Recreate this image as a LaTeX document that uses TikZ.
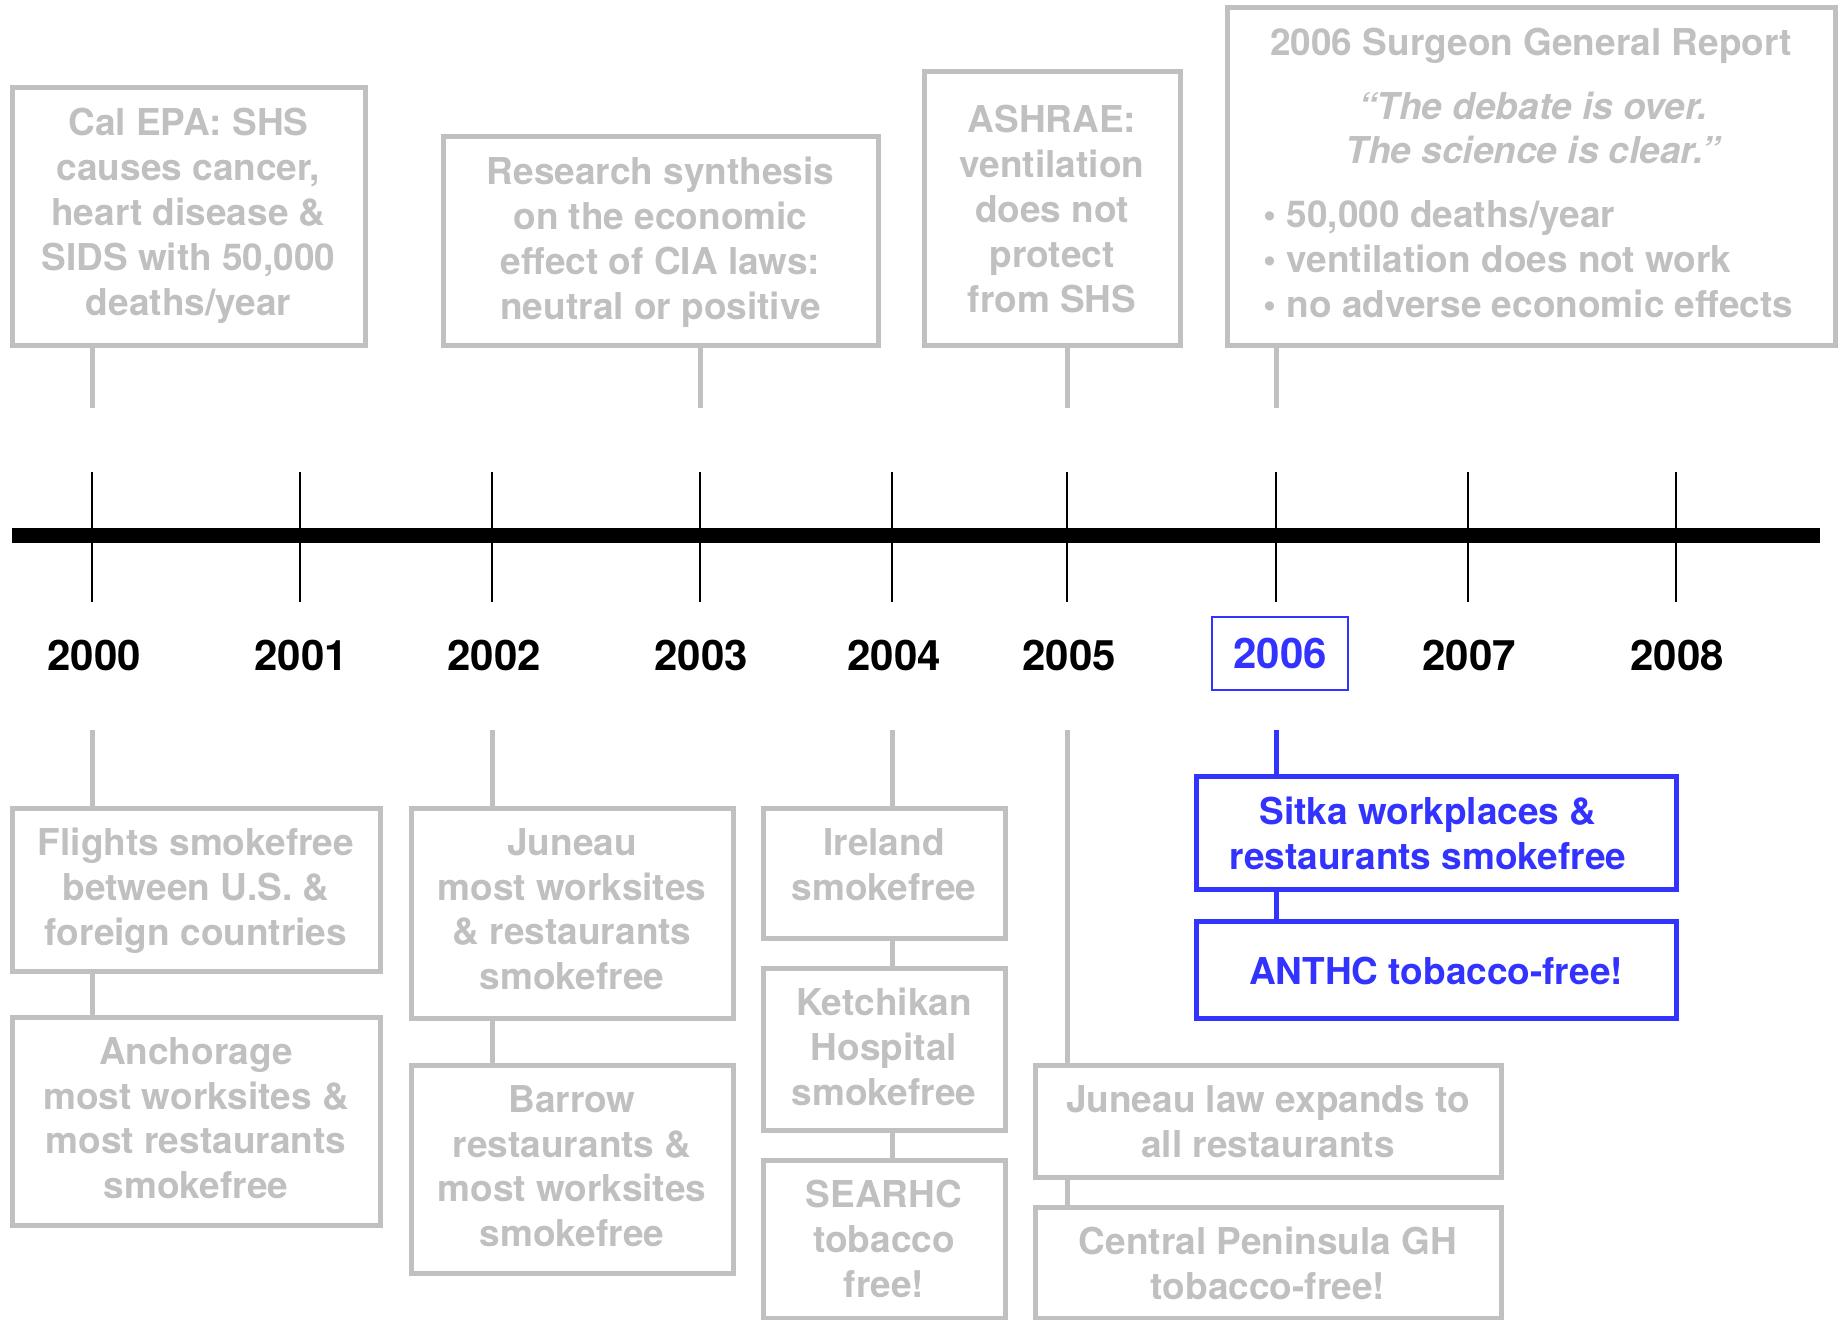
\documentclass[tikz,border=0pt]{standalone}
\usepackage{fontspec}
\setmainfont{TeX Gyre Heros}
\definecolor{gcol}{RGB}{192,192,192}
\definecolor{bcol}{RGB}{51,51,255}
\tikzset{
  txt/.style={font=\fontsize{18.5}{22.4}\selectfont\bfseries, align=center, inner sep=0pt},
  gframe/.style={draw=gcol, line width=2.5pt, inner sep=0pt},
  bframe/.style={draw=bcol, line width=2.5pt, inner sep=0pt},
  gtxt/.style={txt, text=gcol},
  btxt/.style={txt, text=bcol},
  gline/.style={draw=gcol, line width=2.5pt},
  bline/.style={draw=bcol, line width=2.5pt},
  yearlbl/.style={font=\fontsize{21}{25}\selectfont\bfseries, inner sep=0pt},
  tickline/.style={draw=black, line width=1pt},
  axisline/.style={draw=black, line width=7.5pt}
}
\begin{document}
\begin{tikzpicture}[x=0.5pt,y=-0.5pt]
\useasboundingbox (0,0) rectangle (1847,1320);

% ---- axis ----
\coordinate (axl) at (12,536);
\coordinate (axr) at (1820,536);
\draw[axisline] (axl) -- (axr);
\foreach \yr/\x in {2000/92,2001/300,2002/492,2003/700,2004/892,2005/1067,2006/1276,2007/1468,2008/1676}{
  \coordinate (t\yr a) at (\x,472);
  \coordinate (t\yr b) at (\x,602);
  \draw[tickline] (t\yr a) -- (t\yr b);
}
\foreach \yr/\x in {2000/94,2001/301,2002/494,2003/701,2004/894,2005/1069,2007/1469,2008/1677}{
  \node[yearlbl] (y\yr) at (\x,655) {\yr};
}
\node[yearlbl, text=bcol, draw=bcol, line width=1pt, minimum width=68pt, minimum height=36.5pt] (y2006) at (1280,653.5) {2006};

% ---- top boxes ----
\node[gframe, minimum width=176.5pt, minimum height=129pt] (calepa) at (188.5,217) {};
\node[gtxt, anchor=north] (calepatxt) at (188.5,108)
  {Cal EPA: SHS\\causes cancer,\\heart disease \&\\SIDS with 50,000\\deaths/year};
\node[gframe, minimum width=217.5pt, minimum height=104.5pt] (research) at (660.5,241.5) {};
\node[gtxt, anchor=north] (researchtxt) at (660.5,157)
  {Research synthesis\\on the economic\\effect of CIA laws:\\neutral or positive};
\node[gframe, minimum width=128pt, minimum height=137pt] (ashrae) at (1052,209) {};
\node[gtxt] (ashraetxt) at (1052,209)
  {ASHRAE:\\ventilation\\does not\\protect\\from SHS};
\node[gframe, minimum width=304pt, minimum height=169pt] (surgeon) at (1531,177) {};
\node[gtxt] (sgtitle) at (1531,46) {2006 Surgeon General Report};
\node[gtxt, font=\fontsize{18.5}{22.4}\selectfont\bfseries\itshape] (sgquote) at (1533,128)
  {“The debate is over.\\The science is clear.”};
\node[gtxt, anchor=west, align=left] (sgbullets) at (1263,259)
  {• 50,000 deaths/year\\• ventilation does not work\\• no adverse economic effects};

\coordinate (c2000t) at (92,408);
\coordinate (c2003t) at (700,408);
\coordinate (c2005t) at (1067,408);
\coordinate (c2006t) at (1276,408);
\draw[gline] (calepa.south -| c2000t) -- (c2000t);
\draw[gline] (research.south -| c2003t) -- (c2003t);
\draw[gline] (ashrae.south -| c2005t) -- (c2005t);
\draw[gline] (surgeon.south -| c2006t) -- (c2006t);

% ---- bottom boxes ----
\node[gframe, minimum width=184pt, minimum height=81.5pt] (flights) at (196,889.5) {};
\node[gtxt, anchor=north] (flightstxt) at (196,828)
  {Flights smokefree\\between U.S. \&\\foreign countries};
\node[gframe, minimum width=184pt, minimum height=104pt] (anchorage) at (196,1121) {};
\node[gtxt, anchor=north] (anchoragetxt) at (196,1037)
  {Anchorage\\most worksites \&\\most restaurants\\smokefree};
\node[gframe, minimum width=161pt, minimum height=105pt] (juneau) at (572,913) {};
\node[gtxt, anchor=north] (juneautxt) at (572,828)
  {Juneau\\most worksites\\\& restaurants\\smokefree};
\node[gframe, minimum width=161pt, minimum height=104pt] (barrow) at (572,1169) {};
\node[gtxt, anchor=north] (barrowtxt) at (572,1085)
  {Barrow\\restaurants \&\\most worksites\\smokefree};
\node[gframe, minimum width=121pt, minimum height=65pt] (ireland) at (884,873) {};
\node[gtxt, anchor=north] (irelandtxt) at (884,828)
  {Ireland\\smokefree};
\node[gframe, minimum width=121pt, minimum height=81pt] (ketchikan) at (884,1049) {};
\node[gtxt, anchor=north] (ketchikantxt) at (884,988)
  {Ketchikan\\Hospital\\smokefree};
\node[gframe, minimum width=121pt, minimum height=79pt] (searhc) at (884,1239) {};
\node[gtxt, anchor=north] (searhctxt) at (884,1180)
  {SEARHC\\tobacco\\free!};
\node[gframe, minimum width=233pt, minimum height=56pt] (juneaulaw) at (1268,1121) {};
\node[gtxt, anchor=north] (juneaulawtxt) at (1268,1085)
  {Juneau law expands to\\all restaurants};
\node[gframe, minimum width=233pt, minimum height=55.5pt] (central) at (1268,1262.5) {};
\node[gtxt, anchor=north] (centraltxt) at (1268,1227)
  {Central Peninsula GH\\tobacco-free!};
\node[bframe, minimum width=240pt, minimum height=56.5pt] (sitka) at (1436,832.5) {};
\node[btxt, anchor=north] (sitkatxt) at (1428,797)
  {Sitka workplaces \&\\restaurants smokefree};
\node[bframe, minimum width=240pt, minimum height=48.5pt] (anthc) at (1436,969.5) {};
\node[btxt] (anthctxt) at (1436,971)
  {ANTHC tobacco-free!};

\coordinate (c2000b) at (92,730);
\coordinate (c2002b) at (492,730);
\coordinate (c2004b) at (892,730);
\coordinate (c2005b) at (1067,730);
\coordinate (c2006b) at (1276,730);
\draw[gline] (c2000b) -- (flights.north -| c2000b);
\draw[gline] (flights.south -| c2000b) -- (anchorage.north -| c2000b);
\draw[gline] (c2002b) -- (juneau.north -| c2002b);
\draw[gline] (juneau.south -| c2002b) -- (barrow.north -| c2002b);
\draw[gline] (c2004b) -- (ireland.north -| c2004b);
\draw[gline] (ireland.south -| c2004b) -- (ketchikan.north -| c2004b);
\draw[gline] (ketchikan.south -| c2004b) -- (searhc.north -| c2004b);
\draw[gline] (c2005b) -- (juneaulaw.north -| c2005b);
\draw[gline] (juneaulaw.south -| c2005b) -- (central.north -| c2005b);
\draw[bline] (c2006b) -- (sitka.north -| c2006b);
\draw[bline] (sitka.south -| c2006b) -- (anthc.north -| c2006b);
\end{tikzpicture}
\end{document}
